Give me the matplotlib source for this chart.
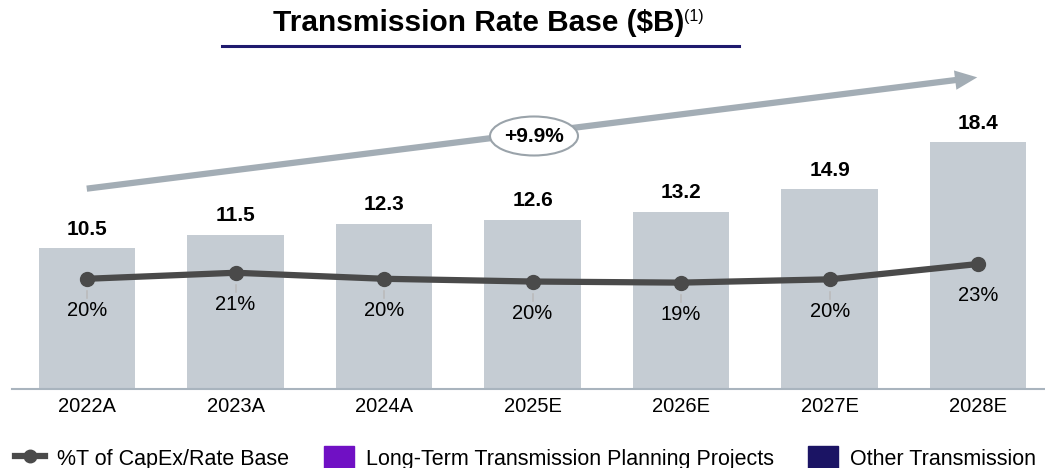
import numpy as np
import matplotlib.pyplot as plt
from matplotlib.patches import Ellipse, FancyArrowPatch

plt.rcParams['font.family'] = ['Liberation Sans', 'DejaVu Sans']

years = ['2022A', '2023A', '2024A', '2025E', '2026E', '2027E', '2028E']
rate_base = [10.5, 11.5, 12.3, 12.6, 13.2, 14.9, 18.4]
pct_capex = [20.1, 21.2, 20.1, 19.6, 19.4, 20.0, 22.8]
pct_labels = ['20%', '21%', '20%', '20%', '19%', '20%', '23%']
cagr_label = '+9.9%'

bar_color = '#C5CCD3'
line_color = '#4A4A4A'
arrow_color = '#A3ADB5'

fig = plt.figure(figsize=(10.45, 4.68), dpi=100)
ax = fig.add_axes([12 / 1045, 1 - 389 / 468, (1045 - 12) / 1045, (389 - 60) / 468])
ind = np.arange(len(years))

bars = ax.bar(ind, rate_base, 0.65, color=bar_color, zorder=1)
ax.set_xlim(-0.505, 6.45)
ax.set_ylim(0, 329 / 13.4)

# value labels above bars
for rect, v in zip(bars, rate_base):
    ax.annotate('%.1f' % v, (rect.get_x() + rect.get_width() / 2, v),
                xytext=(0, 7), textcoords='offset points',
                ha='center', va='bottom', fontsize=15, fontweight='bold')

for s in ['top', 'right', 'left']:
    ax.spines[s].set_visible(False)
ax.spines['bottom'].set_color('#A9B4BE')
ax.spines['bottom'].set_linewidth(1.5)
ax.set_yticks([])
ax.set_xticks(ind)
ax.set_xticklabels(years, fontsize=14.5)
ax.tick_params(axis='x', length=0, pad=6)

# percentage line on a second axis
ax2 = ax.twinx()
ax2.set_ylim(0, 60)
ax2.axis('off')
ax2.plot(ind, pct_capex, color=line_color, lw=4.5, marker='o', ms=10, zorder=3,
         solid_capstyle='round')
for i, (v, lab) in enumerate(zip(pct_capex, pct_labels)):
    if i < len(years) - 1:
        ax2.plot([i, i], [v - 2.3, v - 3.5], color='#BBBBBB', lw=1.2)
    ax2.annotate(lab, (i, v), xytext=(0, -23), textcoords='offset points',
                 ha='center', va='center', fontsize=14.5)

# CAGR arrow and bubble
arrow = FancyArrowPatch((84 / 1045, 1 - 189 / 468), (980 / 1045, 1 - 77 / 468),
                        transform=fig.transFigure,
                        arrowstyle='simple,tail_width=0.45,head_width=1.4,head_length=1.6',
                        mutation_scale=10, color=arrow_color, lw=0)
fig.patches.append(arrow)
ell = Ellipse((534 / 1045, 1 - 136 / 468), 88 / 1045, 39 / 468, transform=fig.transFigure,
              facecolor='white', edgecolor='#9AA3AA', lw=1.5)
fig.patches.append(ell)
fig.text(534 / 1045, 1 - 136 / 468, cagr_label, ha='center', va='center',
         fontsize=15, fontweight='bold')

# title with underline
fig.text(479 / 1045, 1 - 23 / 468, 'Transmission Rate Base ($B)', ha='center', va='center',
         fontsize=21.5, fontweight='bold')
fig.text(684 / 1045, 1 - 17 / 468, '(1)', ha='left', va='center', fontsize=11.5)
fig.add_artist(plt.Line2D([222 / 1045, 739 / 1045], [1 - 46 / 468, 1 - 46 / 468],
                          color='#1F1A6E', lw=2.2))

# legend
handles = [plt.Line2D([], [], color=line_color, lw=4.5, marker='o', ms=9),
           plt.Rectangle((0, 0), 1, 1, color='#7010C4'),
           plt.Rectangle((0, 0), 1, 1, color='#1B1464')]
labels = ['%T of CapEx/Rate Base', 'Long-Term Transmission Planning Projects', 'Other Transmission']
fig.legend(handles, labels, loc='center', bbox_to_anchor=(0.503, 1 - 458 / 468), ncol=3,
           frameon=False, fontsize=15.5, handlelength=1.4, handleheight=1.2,
           columnspacing=1.6, handletextpad=0.55)

fig.savefig('out.png', dpi=100)
